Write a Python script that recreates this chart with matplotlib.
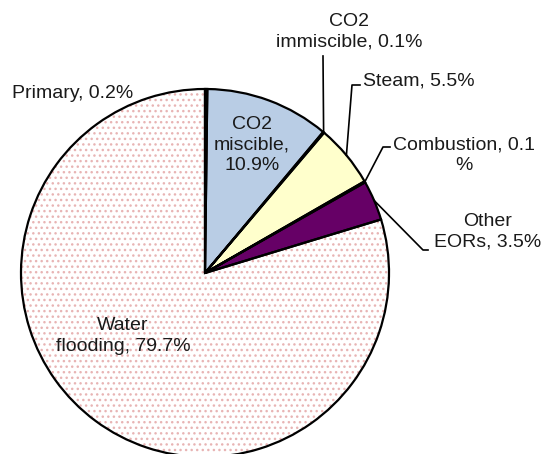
import numpy as np
import matplotlib
matplotlib.use('Agg')
import matplotlib.pyplot as plt

plt.rcParams['font.family'] = ['Liberation Sans', 'DejaVu Sans']

# datos (porcentajes), en sentido horario desde arriba
etiquetas = ['Primary', 'CO2 miscible', 'CO2 immiscible', 'Steam',
             'Combustion', 'Other EORs', 'Water flooding']
valores = [0.2, 10.9, 0.1, 5.5, 0.1, 3.5, 79.7]
colores = ['#1a1a1a', '#b9cde5', '#e6e6e6', '#ffffcc', '#e6e6e6', '#660066', '#ffffff']

W, H = 544, 454
fig = plt.figure(figsize=(W / 100, H / 100), dpi=100)
ax = fig.add_axes([0, 0, 1, 1])

centro = (205, H - 273)
radio = 184

# primera capa: relleno + puntos rosados en "Water flooding"
cunas, _ = ax.pie(valores, colors=colores, startangle=90, counterclock=False,
                  center=centro, radius=radio, frame=True,
                  wedgeprops=dict(linewidth=0))
cunas[-1].set_hatch('...')
cunas[-1].set_edgecolor('#e8b4b4')

# segunda capa: bordes negros
ax.pie(valores, colors=['none'] * len(valores), startangle=90, counterclock=False,
       center=centro, radius=radio, frame=True,
       wedgeprops=dict(linewidth=1.6, edgecolor='black', facecolor='none'))
ax.axis('off')
ax.set_xlim(0, W)
ax.set_ylim(0, H)
ax.set_aspect('equal')


def punto_borde(i):
    c = cunas[i]
    ang = np.deg2rad((c.theta1 + c.theta2) / 2)
    return centro[0] + radio * np.cos(ang), centro[1] + radio * np.sin(ang)


def py(y):
    return H - y


color_txt = '#1a1a1a'
fs = 14
ls = 1.25

# etiquetas dentro
ax.text(252, py(145), 'CO2\nmiscible,\n10.9%', ha='center', va='center',
        fontsize=fs, color=color_txt, linespacing=ls)
ax.text(123, py(336), 'Water\nflooding, 79.7%', ha='center', va='center',
        fontsize=fs, color=color_txt, linespacing=ls)

# etiquetas fuera
ax.text(12, py(93), 'Primary, 0.2%', ha='left', va='center',
        fontsize=fs, color=color_txt)
ax.text(349, py(32), 'CO2\nimmiscible, 0.1%', ha='center', va='center',
        fontsize=fs, color=color_txt, linespacing=ls)
ax.text(363, py(81), 'Steam, 5.5%', ha='left', va='center',
        fontsize=fs, color=color_txt)
ax.text(464, py(155), 'Combustion, 0.1\n%', ha='center', va='center',
        fontsize=fs, color=color_txt, linespacing=ls)
ax.text(488, py(232), 'Other\nEORs, 3.5%', ha='center', va='center',
        fontsize=fs, color=color_txt, linespacing=ls)

# lineas guia
guias = {
    2: [(323, py(56))],
    3: [(360, py(85)), (352, py(85))],
    4: [(390, py(147)), (383, py(147))],
    5: [(428, py(250)), (423, py(250))],
}
for i, pts in guias.items():
    bx, by = punto_borde(i)
    xs = [p[0] for p in pts] + [bx]
    ys = [p[1] for p in pts] + [by]
    ax.plot(xs, ys, color='black', linewidth=1.2)

fig.savefig('out.png', dpi=100)
